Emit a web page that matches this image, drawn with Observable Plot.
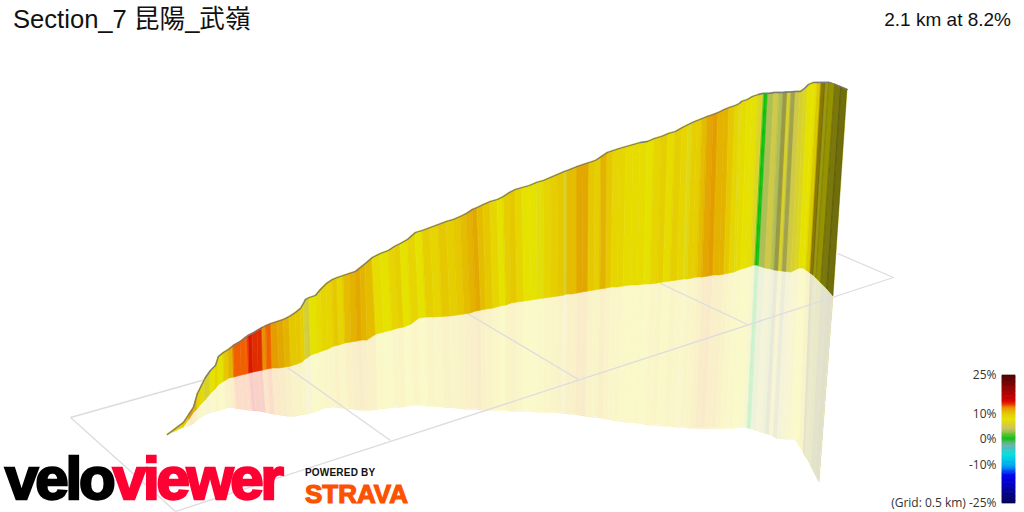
<!DOCTYPE html>
<html><head><meta charset="utf-8">
<script src="https://cdn.jsdelivr.net/npm/d3@7"></script>
<script src="https://cdn.jsdelivr.net/npm/@observablehq/plot@0.6"></script>
<style>
html,body{margin:0;padding:0;background:#fff;width:1024px;height:512px;overflow:hidden;font-family:"Liberation Sans","Noto Sans CJK TC",sans-serif}
#chart,#legend,.t{position:absolute}
#chart{left:0;top:0}
#legend{left:884px;top:365px}
.t{white-space:nowrap;line-height:1}
#title{left:13px;top:7px;font-size:25.6px;color:#111}
#stat{right:13px;top:10px;font-size:19px;color:#111}
#velo{left:5px;top:449px;font-size:60px;font-weight:700;letter-spacing:-3.1px;color:#000;-webkit-text-stroke:2.4px currentColor}
#velo span{color:#ff0033}
#pow{left:305px;top:468px;font-size:10px;font-weight:700;letter-spacing:.2px;color:#111}
#strava{left:305px;top:481px;font-size:26px;font-weight:700;color:#fc5200;-webkit-text-stroke:1.2px currentColor}
</style></head><body>
<div id="chart"></div><div id="legend"></div>
<div class="t" id="title">Section_7 昆陽_武嶺</div>
<div class="t" id="stat">2.1 km at 8.2%</div>
<div class="t" id="velo">velo<span>viewer</span></div>
<div class="t" id="pow">POWERED BY</div>
<div class="t" id="strava">STRAVA</div>
<script>
const topX=[167,175,183,189,193,197,201,205,210,215,218,223,228,233,240,245,248,252,257,262,266,271,277,283,289,295,300,303,305,309,315,320,326,332,337,343,349,355,360,365,372,380,388,394,400,407,415,422,430,438,446,453,460,466,472,477,483,490,497,503,509,515,522,529,536,543,550,557,564,567,572,577,583,589,595,601,607,613,619,626,633,640,647,654,661,668,675,682,688,692,697,702,707,713,718,724,729,735,739,741,747,752,758,762,764,766,768,774,779,783,787,791,795,800,804,808,813,817,821,825,829,835,841,847];
const topY=[434,428,422,413,407,393,385,377,370,365,356,352,349,345,341,337,335,333,330,327,325,323,321,319,316,312,308,303,299,297,295,289,283,279,277,275,273,271,267,263,257,253,250,246,243,239,232,230,227,224,221,219,216,213,209,207,204,201,199,196,192,189,187,185,182,180,177,174,171,170,168,166,164,162,160,156,152,150,148,146,144,142,141,138,136,133,131,127,124,122,120,118,116,114,112,109,107,105,103,101,99,96,94,93,93,93,93,92,92,92,91.5,91.5,91,91,88,84,82,82,82,82,82,84,86.5,89];
const baseX=[167,175,183,189,193,197,201,205,210,215,218,224,229,234,241,246,249,253,258,263,267,272,279,285,291,297,302,305,307,311,317,322,328,334,339,345,351,357,362,367,376,384,392,398,404,411,419,426,434,442,450,457,464,470,476,481,486,493,500,506,511,517,524,531,537,544,551,558,564,567,572,577,582,588,594,600,606,611,617,623,630,637,644,650,657,663,670,677,683,687,692,697,702,708,713,719,724,729,734,736,741,745,751,754,755,757,759,765,771,774,778,782,786,791,795,799,803,806,810,813,816,821,827,833];
const baseY=[434,431,427,419,413,409,404,400,394,389,385,381,378,377,375,374,373,372,371,370,369,368,368,367,366,364,362,359,358,355,353,351,349,346,345,343,342,341,340,340,334,332,330,328,327,324,318,317,317,316.5,316,315,314,313,311,310,309,308,306,305,303,302,301,300,299,298,297,296,295,294,294,293,292,291,290,289,288,287,287,286,285,285,284,284,283,282,281,280,279,279,278,277,277,276,275,275,274,273,272,271,269,268,266,265,265,265,266,268,269,270,270.5,271,271.5,272,270,268,268,270,273,275,278,283,289,296];
const shadowX=[167,176,184,190,194,198,202,206,211,216,220,225,231,236,243,249,252,256,261,266,270,275,282,288,294,299,304,307,310,313,319,324,330,336,342,348,354,360,365,370,378,386,394,400,406,413,421,428,436,444,452,459,465,471,477,482,487,493,500,506,511,517,523,530,536,543,549,556,562,565,570,575,580,586,592,597,603,608,613,619,626,632,639,645,651,657,664,670,676,680,685,690,695,700,705,711,716,721,726,728,733,737,743,746,747,749,751,756,762,765,769,773,777,782,787,791,795,799,803,805,808,811,815,819];
const shadowY=[434,430,427,425,423,419,416,414,412,411,410,408,407,408,409,410,410,410.5,411,412,413,414,415,416,416,415,414,414,413,412,410,408,407,407,408,408,409,410,410,410,409,408,407,407,406,405,405,406,406,407,407.5,408,409,409,409,410,410,410,410,410,411,411,411,411,412,412,412,412,413,413,414,414,415,416,417,417,418,419,420,421,422,422,423,424,425,425,426,426,427,427,427,428,428,428,428,428,428,428,428,428,428,427,427,427,427,428,428,430,432,433,434,436,438,438.5,439,439,439,445,451,456,460,466,474,482];
const grade=[9,9,10,12,11,9,7,6,8,9,8,10,11,13,13,13,14.5,14,14,12.5,13,12,11.5,11,10,10,9.5,6,5.5,8,8.5,9,9,10,9,10.5,11,11.5,11,10.5,8.5,8,9,9.5,8,9,8,9.5,9,10,9.5,10,10.5,11,11.5,10.5,10,9,8,9.5,10,9,8,8,7.5,9,9.5,10,6,10.5,10.5,11.5,11.5,10,9.5,11,10,9,9,8.5,8.5,8.5,8,9,9.5,8.5,9.5,9,7,9.5,9.5,10.5,11.5,12,11,11,10,9,7,8.5,8,7.8,6.5,6,0.5,0.5,3.5,5,3.5,3.8,6,3.8,5,6,6.5,8,8,9,10,7,8,7,7,6];
const shade=[0,0,0,0,0,0,0,0,0,0,0,0,0,0,0,0,0,0,0,0,0,0,0,0,0,0,0,0,0,0,0,0,0,0,0,0,0,0,0,0,0,0,0,0,0,0,0,0,0,0,0,0,0,0,0,0,0,0,0,0,0,0,0,0,0,0,0,0,0,0,0,0,0,0,0,0,0,0,0,0,0,0,0,0,0,0,0,0,0,0,0,0,0,0,0,0,0,0,0,0,0,0,0,0,0,0,0,0,0,0.2,0,0.15,0,0,0,0,0,0.05,0.4,0.3,0.35,0.45,0.5,0.5];
const gradeStops=[-25,-14,-10.5,-6,-2,0.5,4,8,10,11.5,12.5,13,13.6,15,20,25];
const gradeColors=["#000050","#0000f0","#00a0f0","#00e0e0","#70b0a8","#10c010","#c8c060","#e6e200","#e6c800","#e2a800","#e89000","#f06000","#e04000","#d80000","#900000","#4a0000"];
const gridX1=[70,70,175,287,467,660,837];
const gridY1=[417,417,511,367,313,283,253];
const gridX2=[205,175,893,390,578,747,893];
const gridY2=[379,511,277,440,379,324,277];
const legendTicks=[25,10,0,-10,-25];
const legendSteps=d3.range(-25,25,0.5);

const colorScale={type:"linear",domain:gradeStops,range:gradeColors,clamp:true};
const strips=d3.range(topX.length-1).flatMap(i=>[i,i+1].map(j=>({id:i,g:grade[i],sh:shade[i],
  tx:topX[j],ty:topY[j],bx:baseX[j],by:baseY[j],sx:shadowX[j],sy:shadowY[j]})));
const shaded=strips.filter(d=>d.sh>0);
const grid=gridX1.map((d,i)=>({x1:d,y1:gridY1[i],x2:gridX2[i],y2:gridY2[i]}));
const ridge=topX.map((d,i)=>({x:d,y:topY[i]}));
const floorVeil=topX.map((d,i)=>({bx:baseX[i],by:baseY[i],sx:shadowX[i],sy:shadowY[i]}));

document.getElementById("chart").append(Plot.plot({
  width:1024,height:512,margin:0,
  x:{domain:[0,1024],range:[0,1024],axis:null},
  y:{domain:[0,512],range:[0,512],axis:null},
  color:colorScale,
  marks:[
    Plot.area(strips,{x1:"sx",y1:"sy",x2:"bx",y2:"by",z:"id",fill:"g",stroke:"g",strokeWidth:0.4}),
    Plot.area(shaded,{x1:"sx",y1:"sy",x2:"bx",y2:"by",z:"id",fill:"#000",fillOpacity:"sh"}),
    Plot.area(floorVeil,{x1:"sx",y1:"sy",x2:"bx",y2:"by",fill:"#fff",fillOpacity:0.79,stroke:"#fff",strokeOpacity:0.79,strokeWidth:0.6}),
    Plot.link(grid,{x1:"x1",y1:"y1",x2:"x2",y2:"y2",stroke:"#dcdce0",strokeWidth:1.3}),
    Plot.area(strips,{x1:"bx",y1:"by",x2:"tx",y2:"ty",z:"id",fill:"g",stroke:"g",strokeWidth:0.6}),
    Plot.area(shaded,{x1:"bx",y1:"by",x2:"tx",y2:"ty",z:"id",fill:"#000",fillOpacity:"sh",stroke:"#000",strokeOpacity:"sh",strokeWidth:0.3}),
    Plot.line(ridge,{x:"x",y:"y",stroke:"#7a7a7a",strokeWidth:1.3})
  ]
}));

document.getElementById("legend").append(Plot.plot({
  width:140,height:150,marginLeft:118,marginRight:9,marginTop:10,marginBottom:12,
  style:{fontSize:"12px",fontFamily:"'Open Sans',sans-serif",color:"#333",background:"transparent",overflow:"visible"},
  x:{domain:[0,1],axis:null},
  y:{domain:[-25,25],axis:null},
  color:colorScale,
  marks:[
    Plot.rect(legendSteps,{x1:0,x2:1,y1:d=>d,y2:d=>d+0.5,fill:d=>d+0.25,stroke:d=>d+0.25,strokeWidth:0.7}),
    Plot.axisY({ticks:legendTicks,tickSize:0,tickPadding:6,fontSize:12,label:null,
      tickFormat:d=>d===-25?"(Grid: 0.5 km) -25%":d+"%"})
  ]
}));
</script>
</body></html>
